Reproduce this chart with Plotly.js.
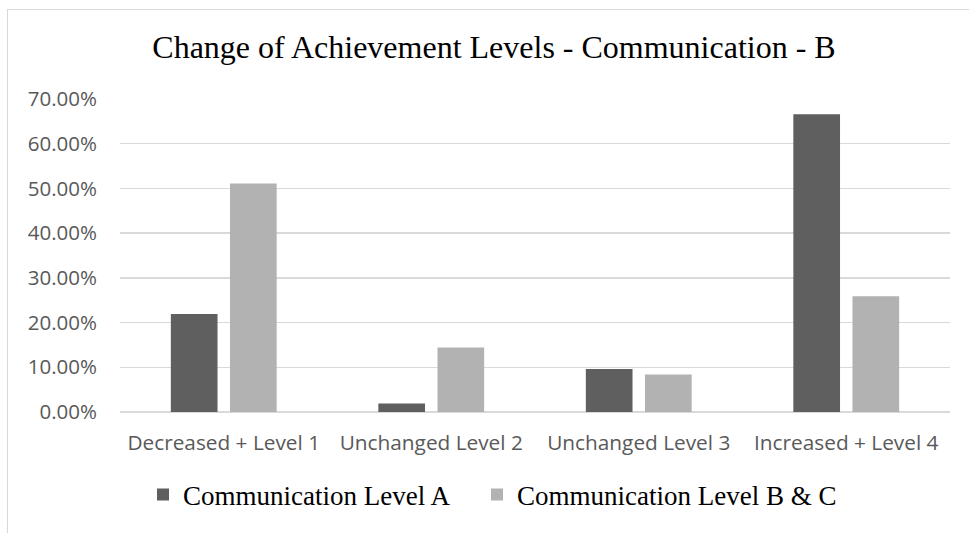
<!DOCTYPE html>
<html>
<head>
<meta charset="utf-8">
<script src="https://cdn.plot.ly/plotly-3.0.1.min.js"></script>
<style>
  html, body { margin: 0; padding: 0; background: #ffffff; }
  #frame { position: absolute; left: 7px; top: 9px; width: 1200px; height: 800px;
           border-left: 1px solid #d9d9d9; border-top: 1px solid #d9d9d9; }
  #chart { position: absolute; left: 0; top: 0; width: 969px; height: 533px; }
</style>
</head>
<body>
<div id="frame"></div>
<div id="chart"></div>
<script>
const categories = ["Decreased + Level 1", "Unchanged Level 2", "Unchanged Level 3", "Increased + Level 4"];
const seriesNames = ["Communication Level A", "Communication Level B & C"];
const levelA = [0.219, 0.019, 0.096, 0.666];
const levelBC = [0.511, 0.144, 0.084, 0.259];
const yTickValues = [0, 0.1, 0.2, 0.3, 0.4, 0.5, 0.6, 0.7];

const traces = [
  { type: "bar", name: seriesNames[0], x: categories, y: levelA, legend: "legend",
    marker: { color: "#5f5f5f" }, width: 0.225, offset: -0.255, hoverinfo: "y" },
  { type: "bar", name: seriesNames[1], x: categories, y: levelBC, legend: "legend2",
    marker: { color: "#b2b2b2" }, width: 0.225, offset: 0.03, hoverinfo: "y" }
];

const legendFont = { family: "Liberation Serif, Times New Roman, serif", size: 27, color: "#000000" };

const layout = {
  width: 969, height: 533,
  paper_bgcolor: "rgba(0,0,0,0)", plot_bgcolor: "rgba(0,0,0,0)",
  margin: { l: 119.5, r: 18.5, t: 99, b: 121.3, pad: 0 },
  title: {
    text: "Change of Achievement Levels - Communication - B",
    font: { family: "Liberation Serif, Times New Roman, serif", size: 32, color: "#000000" },
    xref: "container", x: 494 / 969, xanchor: "center",
    yref: "container", y: 1 - 47 / 533, yanchor: "middle"
  },
  xaxis: {
    type: "category",
    tickfont: { family: "Open Sans, sans-serif", size: 20.8, color: "#595959" },
    showgrid: false, showline: false, ticks: "", zeroline: false,
    ticklabelstandoff: 16
  },
  yaxis: {
    range: [0, 0.7], tickvals: yTickValues, tickformat: ".2%",
    tickfont: { family: "Open Sans, sans-serif", size: 20.5, color: "#595959" },
    showgrid: true, gridcolor: "#d9d9d9", gridwidth: 1.3,
    zeroline: true, zerolinecolor: "#d9d9d9", zerolinewidth: 1.3,
    showline: false, ticks: "", ticklabelstandoff: 22
  },
  showlegend: true,
  legend: {
    orientation: "h", xref: "container", yref: "container",
    x: 143 / 969, xanchor: "left", y: 1 - 495 / 533, yanchor: "middle",
    font: legendFont, bgcolor: "rgba(0,0,0,0)"
  },
  legend2: {
    orientation: "h", xref: "container", yref: "container",
    x: 477 / 969, xanchor: "left", y: 1 - 495 / 533, yanchor: "middle",
    font: legendFont, bgcolor: "rgba(0,0,0,0)"
  },
  bargap: 0.49
};

Plotly.newPlot("chart", traces, layout, { displayModeBar: false, staticPlot: true });
</script>
</body>
</html>
